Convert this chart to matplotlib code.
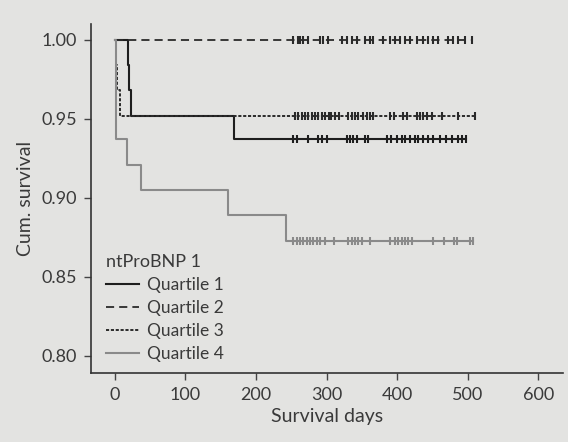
import matplotlib
matplotlib.use("Agg")
import matplotlib.pyplot as plt

# Kaplan-Meier curves: step times (days) and survival after each step
q1_times = [0, 18, 20, 23, 169]
q1_surv = [1.0, 0.984, 0.968, 0.952, 0.937]
q1_censor = [253, 258, 274, 288, 293, 300, 329, 333, 338, 343, 355, 359, 385, 392,
             400, 407, 411, 418, 426, 430, 437, 444, 451, 461, 470, 478, 487, 492, 497]

q2_times = [0]
q2_surv = [1.0]
q2_censor = [252, 260, 262, 267, 274, 291, 295, 302, 322, 329, 336, 343, 355, 362,
             366, 380, 390, 397, 404, 411, 418, 428, 437, 444, 451, 458, 472, 479,
             487, 496, 506]

q3_times = [0, 1, 3, 7]
q3_surv = [1.0, 0.984, 0.968, 0.952]
q3_censor = [255, 260, 265, 270, 274, 279, 284, 288, 293, 298, 303, 307, 312, 317,
             331, 336, 340, 345, 352, 357, 362, 366, 390, 395, 409, 414, 428, 433,
             437, 442, 449, 463, 487, 511]

q4_times = [0, 1, 17, 37, 160, 243]
q4_surv = [1.0, 0.937, 0.921, 0.905, 0.889, 0.873]
q4_censor = [253, 258, 262, 267, 272, 277, 281, 286, 291, 298, 310, 331, 336, 340,
             345, 350, 362, 390, 397, 402, 407, 411, 416, 421, 451, 466, 480, 485,
             504, 508]

labels = ["Quartile 1", "Quartile 2", "Quartile 3", "Quartile 4"]
x_ticks = [0, 100, 200, 300, 400, 500, 600]
y_ticks = [0.80, 0.85, 0.90, 0.95, 1.00]

plt.rcParams["font.family"] = ["Lato", "DejaVu Sans"]
bg = "#e3e3e1"
txt = "#3a3a3a"

fig = plt.figure(figsize=(5.68, 4.42), dpi=100, facecolor=bg)
ax = fig.add_axes([0.160, 0.156, 0.831, 0.790], facecolor=bg)

styles = [
    dict(color="#1e1e1e", linestyle="-", linewidth=1.5),
    dict(color="#2a2a2a", linestyle=(0, (4.5, 2.8)), linewidth=1.3),
    dict(color="#2a2a2a", linestyle=(0, (1.6, 0.9)), linewidth=1.4),
    dict(color="#8a8a8a", linestyle="-", linewidth=1.5),
]

groups = [
    (q1_times, q1_surv, q1_censor),
    (q2_times, q2_surv, q2_censor),
    (q3_times, q3_surv, q3_censor),
    (q4_times, q4_surv, q4_censor),
]

for (times, surv, censor), st, lab in zip(groups, styles, labels):
    end = max(censor)
    xs = times + [end]
    ys = surv + [surv[-1]]
    ax.step(xs, ys, where="post", label=lab, **st)
    # censor ticks sit on the curve at the survival level in force at that time
    cy = []
    for c in censor:
        level = surv[0]
        for t, s in zip(times, surv):
            if t <= c:
                level = s
        cy.append(level)
    ax.plot(censor, cy, linestyle="none", marker="|", markersize=6,
            markeredgewidth=1.5, color=st["color"])

ax.set_xlim(-34, 635)
ax.set_ylim(0.7892, 1.0101)
ax.set_xticks(x_ticks)
ax.set_yticks(y_ticks)
ax.set_yticklabels([f"{v:.2f}" for v in y_ticks])

for side in ["top", "right"]:
    ax.spines[side].set_visible(False)
for side in ["left", "bottom"]:
    ax.spines[side].set_color("#333333")
    ax.spines[side].set_linewidth(1.2)

ax.tick_params(direction="out", length=5, width=1, colors="#444444",
               labelsize=13, labelcolor=txt, pad=5)
ax.set_xlabel("Survival days", fontsize=14, color=txt, labelpad=4)
ax.set_ylabel("Cum. survival", fontsize=14, color=txt, labelpad=5)

leg = ax.legend(title="ntProBNP 1", loc="lower left", bbox_to_anchor=(0.01, 0.003),
                frameon=False, fontsize=12.5, title_fontsize=13,
                handlelength=1.9, handletextpad=0.45, labelspacing=0.4,
                alignment="left", borderaxespad=0.2)
for t in leg.get_texts():
    t.set_color(txt)
leg.get_title().set_color(txt)

fig.savefig("out.png", dpi=100, facecolor=bg)
